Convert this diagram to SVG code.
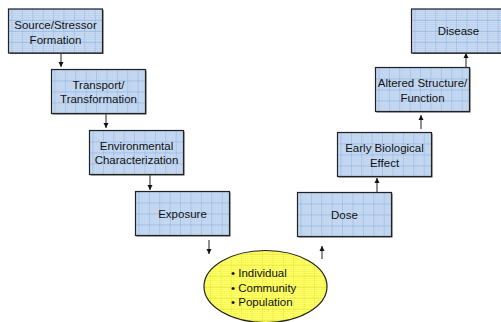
<svg xmlns="http://www.w3.org/2000/svg" width="501" height="322" viewBox="0 0 501 322">
<defs>
<pattern id="dots" width="2" height="2" patternUnits="userSpaceOnUse">
<rect width="2" height="2" fill="#c7daf2"/>
<rect width="1" height="1" fill="#b6cdea"/>
</pattern>
<pattern id="grid" width="10.4" height="11" patternUnits="userSpaceOnUse" x="3" y="0">
<rect width="10.4" height="11" fill="url(#dots)"/>
<path d="M0 0V11M0 0H10.4" stroke="#86addf" stroke-width="0.9" fill="none"/>
</pattern>
<pattern id="ydots" width="2" height="2" patternUnits="userSpaceOnUse">
<rect width="2" height="2" fill="#ffff66"/>
<rect width="1" height="1" fill="#f2f250"/>
</pattern>
<pattern id="ygrid" width="10.4" height="11" patternUnits="userSpaceOnUse" x="2" y="1">
<rect width="10.4" height="11" fill="url(#ydots)"/>
<path d="M0 0V11M0 0H10.4" stroke="#e0e030" stroke-width="0.8" fill="none"/>
</pattern>
<marker id="ah" markerWidth="6" markerHeight="6" refX="5" refY="3" orient="auto" markerUnits="userSpaceOnUse">
<path d="M0 0.5L5 3L0 5.5Z" fill="#111"/>
</marker>
<style>
.box{fill:url(#grid);stroke:#222;stroke-width:1.2}
.sh{fill:#555}
.t{font-family:"Liberation Sans",Arial,sans-serif;font-size:11.5px;fill:#111;text-anchor:middle}
.tl{font-family:"Liberation Sans",Arial,sans-serif;font-size:11.5px;fill:#111}
.c{stroke:#222;stroke-width:1;fill:none;marker-end:url(#ah)}
</style>
</defs>

<g id="connectors">
<line class="c" x1="61" y1="53" x2="61" y2="67"/>
<line class="c" x1="106" y1="114" x2="106" y2="128"/>
<line class="c" x1="150" y1="174" x2="150" y2="190"/>
<line class="c" x1="209" y1="240" x2="209" y2="254"/>
<line class="c" x1="322" y1="259" x2="322" y2="246"/>
<line class="c" x1="377" y1="192" x2="377" y2="178"/>
<line class="c" x1="421" y1="129" x2="421" y2="115"/>
<line class="c" x1="466" y1="67" x2="466" y2="53"/>
</g>

<g id="source" transform="translate(8.5,9)">
<rect class="sh" x="1" y="1" width="94" height="44"/>
<rect class="box" width="94" height="44"/>
<text class="t" x="47" y="20">Source/Stressor</text>
<text class="t" x="47" y="35">Formation</text>
</g>

<g id="transport" transform="translate(51.5,69.5)">
<rect class="sh" x="1" y="1" width="94" height="44"/>
<rect class="box" width="94" height="44"/>
<text class="t" x="47" y="19.5">Transport/</text>
<text class="t" x="47" y="33.5">Transformation</text>
</g>

<g id="environmental" transform="translate(89.5,130.5)">
<rect class="sh" x="1" y="1" width="94" height="44"/>
<rect class="box" width="94" height="44"/>
<text class="t" x="47" y="19.5">Environmental</text>
<text class="t" x="47" y="33.5">Characterization</text>
</g>

<g id="exposure" transform="translate(135.5,191.5)">
<rect class="sh" x="1" y="1" width="94" height="44"/>
<rect class="box" width="94" height="44"/>
<text class="t" x="47" y="26.5">Exposure</text>
</g>

<g id="receptor">
<ellipse cx="265.5" cy="286.5" rx="61.5" ry="36" fill="url(#ygrid)" stroke="#222" stroke-width="1.2"/>
<text class="tl" x="231" y="277">• Individual</text>
<text class="tl" x="231" y="292">• Community</text>
<text class="tl" x="231" y="306">• Population</text>
</g>

<g id="dose" transform="translate(297.5,192.5)">
<rect class="sh" x="1" y="1" width="94" height="44"/>
<rect class="box" width="94" height="44"/>
<text class="t" x="47" y="26.5">Dose</text>
</g>

<g id="early" transform="translate(337.5,132.5)">
<rect class="sh" x="1" y="1" width="94" height="44"/>
<rect class="box" width="94" height="44"/>
<text class="t" x="47" y="19.5">Early Biological</text>
<text class="t" x="47" y="34.5">Effect</text>
</g>

<g id="altered" transform="translate(375.5,67.5)">
<rect class="sh" x="1" y="1" width="94" height="44"/>
<rect class="box" width="94" height="44"/>
<text class="t" x="47" y="19.5">Altered Structure/</text>
<text class="t" x="47" y="34.5">Function</text>
</g>

<g id="disease" transform="translate(411.5,9)">
<rect class="sh" x="1" y="1" width="94" height="44"/>
<rect class="box" width="94" height="44"/>
<text class="t" x="47" y="26">Disease</text>
</g>
</svg>
